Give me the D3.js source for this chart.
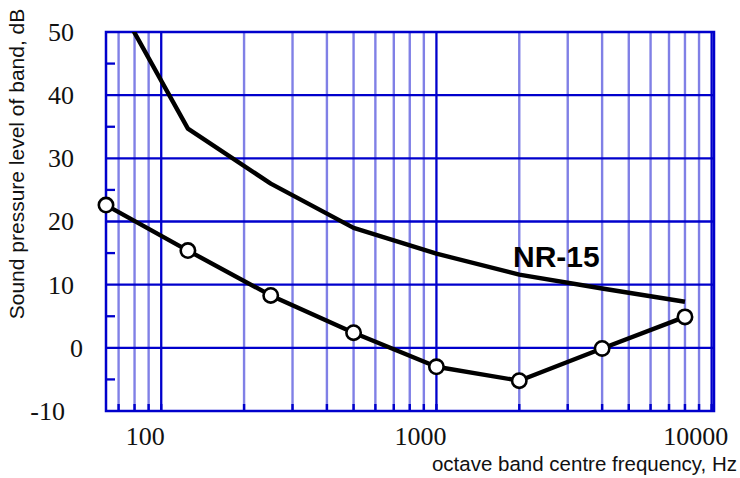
<!DOCTYPE html>
<html>
<head>
<meta charset="utf-8">
<script src="https://cdn.jsdelivr.net/npm/d3@7"></script>
<style>
  html, body { margin: 0; padding: 0; background: #fff; }
  svg { display: block; }
</style>
</head>
<body>
<svg id="chart" width="740" height="478"></svg>
<script>
// Octave band centre frequencies (Hz)
const bands = [63, 125, 250, 500, 1000, 2000, 4000, 8000];
// NR-15 rating curve, dB
const nr15 = [58, 34.7, 26.0, 19.0, 14.9, 11.6, 9.4, 7.3];
// Measured band levels, dB
const measured = [22.6, 15.4, 8.3, 2.4, -3.0, -5.2, -0.1, 4.9];

// Axis ticks
const xMajorTicks = [100, 1000, 10000];
const xMinorTicks = [70, 80, 90, 200, 300, 400, 500, 600, 700, 800, 900,
                     2000, 3000, 4000, 5000, 6000, 7000, 8000, 9000];
const yMajorTicks = [-10, 0, 10, 20, 30, 40, 50];
const yMinorTicks = [-5, 5, 15, 25, 35, 45];

const dark = "#0000cc";
const light = "#8080e6";
const serif = "'Liberation Serif'";
const sans = "'Liberation Sans'";

const svg = d3.select("#chart");
const plot = { left: 106, right: 714, top: 32, bottom: 411 };

const x = d3.scaleLog().domain([63, 10200]).range([plot.left, plot.right]);
const y = d3.scaleLinear().domain([-10, 50]).range([plot.bottom, plot.top]);

svg.append("defs").append("clipPath").attr("id", "plotClip")
  .append("rect")
  .attr("x", plot.left).attr("y", plot.top)
  .attr("width", plot.right - plot.left).attr("height", plot.bottom - plot.top);

const grid = svg.append("g");

// light vertical grid for intermediate frequencies
grid.selectAll("line.vminor").data(xMinorTicks).join("line")
  .attr("class", "vminor")
  .attr("x1", d => x(d)).attr("x2", d => x(d))
  .attr("y1", plot.top).attr("y2", plot.bottom)
  .attr("stroke", light).attr("stroke-width", 2.4);

// horizontal grid every 10 dB
grid.selectAll("line.hmajor").data(yMajorTicks.filter(v => v > -10 && v < 50)).join("line")
  .attr("class", "hmajor")
  .attr("x1", plot.left).attr("x2", plot.right)
  .attr("y1", d => y(d)).attr("y2", d => y(d))
  .attr("stroke", dark).attr("stroke-width", 2.3);

// decade lines
grid.selectAll("line.vmajor").data(xMajorTicks).join("line")
  .attr("class", "vmajor")
  .attr("x1", d => x(d)).attr("x2", d => x(d))
  .attr("y1", plot.top).attr("y2", plot.bottom)
  .attr("stroke", dark).attr("stroke-width", 2.3);

// frame
grid.append("rect")
  .attr("x", plot.left).attr("y", plot.top)
  .attr("width", plot.right - plot.left).attr("height", plot.bottom - plot.top)
  .attr("fill", "none").attr("stroke", dark).attr("stroke-width", 2.5);

// inner tick marks on the left axis
grid.selectAll("line.ytick").data(yMinorTicks).join("line")
  .attr("class", "ytick")
  .attr("x1", plot.left).attr("x2", plot.left + 9)
  .attr("y1", d => y(d)).attr("y2", d => y(d))
  .attr("stroke", dark).attr("stroke-width", 2.3);

// inner tick marks on the bottom axis
grid.selectAll("line.xtick").data(xMinorTicks.concat(xMajorTicks)).join("line")
  .attr("class", "xtick")
  .attr("x1", d => x(d)).attr("x2", d => x(d))
  .attr("y1", plot.bottom).attr("y2", plot.bottom - 7)
  .attr("stroke", dark).attr("stroke-width", 2.4);

// tick labels
svg.append("g").selectAll("text").data(yMajorTicks).join("text")
  .attr("x", plot.left - 32)
  .attr("dx", d => d === 0 ? 9 : (d < 0 ? -9 : 0))
  .attr("y", d => y(d))
  .attr("dy", "0.34em")
  .attr("text-anchor", "end")
  .style("font-family", serif)
  .attr("font-size", 26).attr("fill", "#111")
  .text(d => d);

svg.append("g").selectAll("text").data(xMajorTicks).join("text")
  .attr("x", d => x(d) - 16)
  .attr("y", plot.bottom + 34)
  .attr("text-anchor", "middle")
  .style("font-family", serif)
  .attr("font-size", 26).attr("fill", "#111")
  .text(d => d);

// axis titles
svg.append("text")
  .attr("transform", "translate(24,164) rotate(-90)")
  .attr("text-anchor", "middle")
  .style("font-family", sans)
  .attr("font-size", 21).attr("fill", "#111")
  .text("Sound pressure level of band, dB");

svg.append("text")
  .attr("x", 737).attr("y", 471)
  .attr("text-anchor", "end")
  .style("font-family", sans)
  .attr("font-size", 20.5).attr("fill", "#111")
  .text("octave band centre frequency, Hz");

// curves
const line = d3.line().x(d => x(d[0])).y(d => y(d[1]));

svg.append("path")
  .datum(bands.map((f, i) => [f, nr15[i]]))
  .attr("clip-path", "url(#plotClip)")
  .attr("d", line)
  .attr("fill", "none").attr("stroke", "#000").attr("stroke-width", 4.4)
  .attr("stroke-linejoin", "round");

const pts = bands.map((f, i) => [f, measured[i]]);
svg.append("path")
  .datum(pts)
  .attr("d", line)
  .attr("fill", "none").attr("stroke", "#000").attr("stroke-width", 4.4)
  .attr("stroke-linejoin", "round");

svg.append("g").selectAll("circle").data(pts).join("circle")
  .attr("cx", d => x(d[0])).attr("cy", d => y(d[1]))
  .attr("r", 7.2)
  .attr("fill", "#fff").attr("stroke", "#000").attr("stroke-width", 2.6);

// curve label
svg.append("text")
  .attr("x", 513).attr("y", 267)
  .style("font-family", sans)
  .attr("font-weight", "bold").attr("font-size", 30)
  .attr("fill", "#000")
  .text("NR-15");
</script>
</body>
</html>
